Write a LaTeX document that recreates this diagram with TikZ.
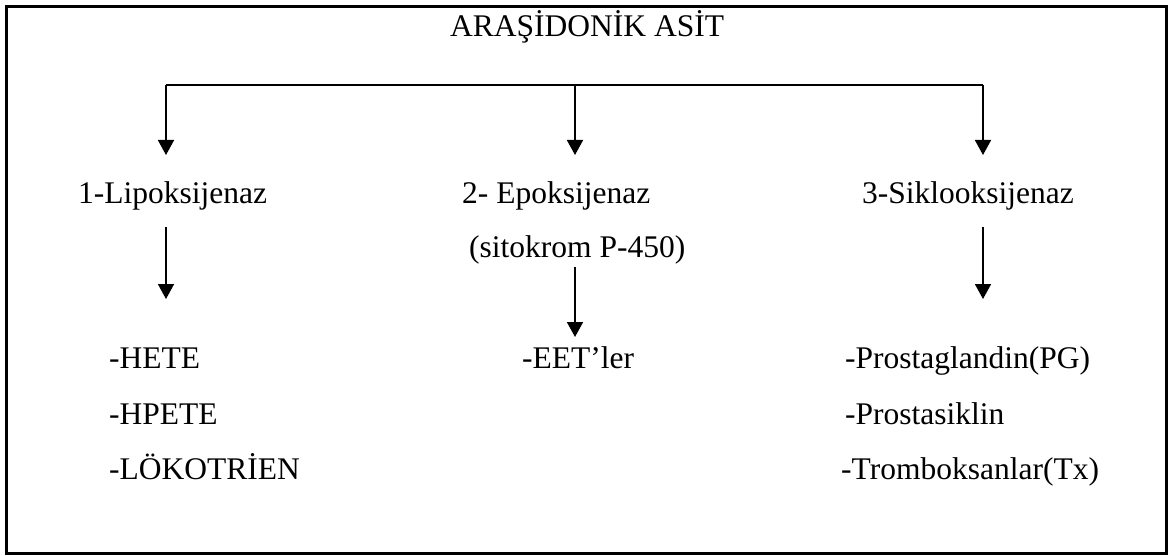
\documentclass[tikz,border=0pt]{standalone}
\usepackage{fontspec}
\setmainfont{Liberation Serif}
\usetikzlibrary{arrows.meta}
\begin{document}
\begin{tikzpicture}[x=1pt,y=-1pt,
  lbl/.style={anchor=base west,inner sep=0pt,font=\fontsize{31.5}{36}\selectfont},
  conn/.style={line width=1.8pt},
  arr/.style={conn,-{Triangle[width=16pt,length=15pt]}},
  frame/.style={line width=3pt}]
\useasboundingbox (0,0) rectangle (1173,556);
\draw[frame] (6.5,7) rectangle (1166,553);
% texts
\node[lbl] (title) at (450,37) {ARAŞİDONİK ASİT};
\node[lbl] (lip) at (78,204) {1-Lipoksijenaz};
\node[lbl] (epo) at (462,204) {2- Epoksijenaz};
\node[lbl] (sit) at (469,258) {(sitokrom P-450)};
\node[lbl] (sik) at (862,204) {3-Siklooksijenaz};
\node[lbl] (hete) at (109,368) {-HETE};
\node[lbl] (hpete) at (109,424) {-HPETE};
\node[lbl] (lok) at (109,479) {-LÖKOTRİEN};
\node[lbl] (eet) at (522,368) {-EET’ler};
\node[lbl] (pg) at (845,368) {-Prostaglandin(PG)};
\node[lbl] (pro) at (845,424) {-Prostasiklin};
\node[lbl] (tx) at (841,479) {-Tromboksanlar(Tx)};
% branch coordinates
\coordinate (bl) at (166,85);
\coordinate (bm) at (575,85);
\coordinate (br) at (983,85);
\coordinate (tl) at (166,155);
\coordinate (tm) at (575,155);
\coordinate (tr) at (983,155);
\coordinate (l1s) at (166,227);
\coordinate (l1e) at (166,299);
\coordinate (m1s) at (575,267);
\coordinate (m1e) at (575,337);
\coordinate (r1s) at (983,227);
\coordinate (r1e) at (983,299);
% connectors
\draw[conn] (bl) -- (br);
\draw[arr] (bl) -- (tl);
\draw[arr] (bm) -- (tm);
\draw[arr] (br) -- (tr);
\draw[arr] (l1s) -- (l1e);
\draw[arr] (m1s) -- (m1e);
\draw[arr] (r1s) -- (r1e);
\end{tikzpicture}
\end{document}
